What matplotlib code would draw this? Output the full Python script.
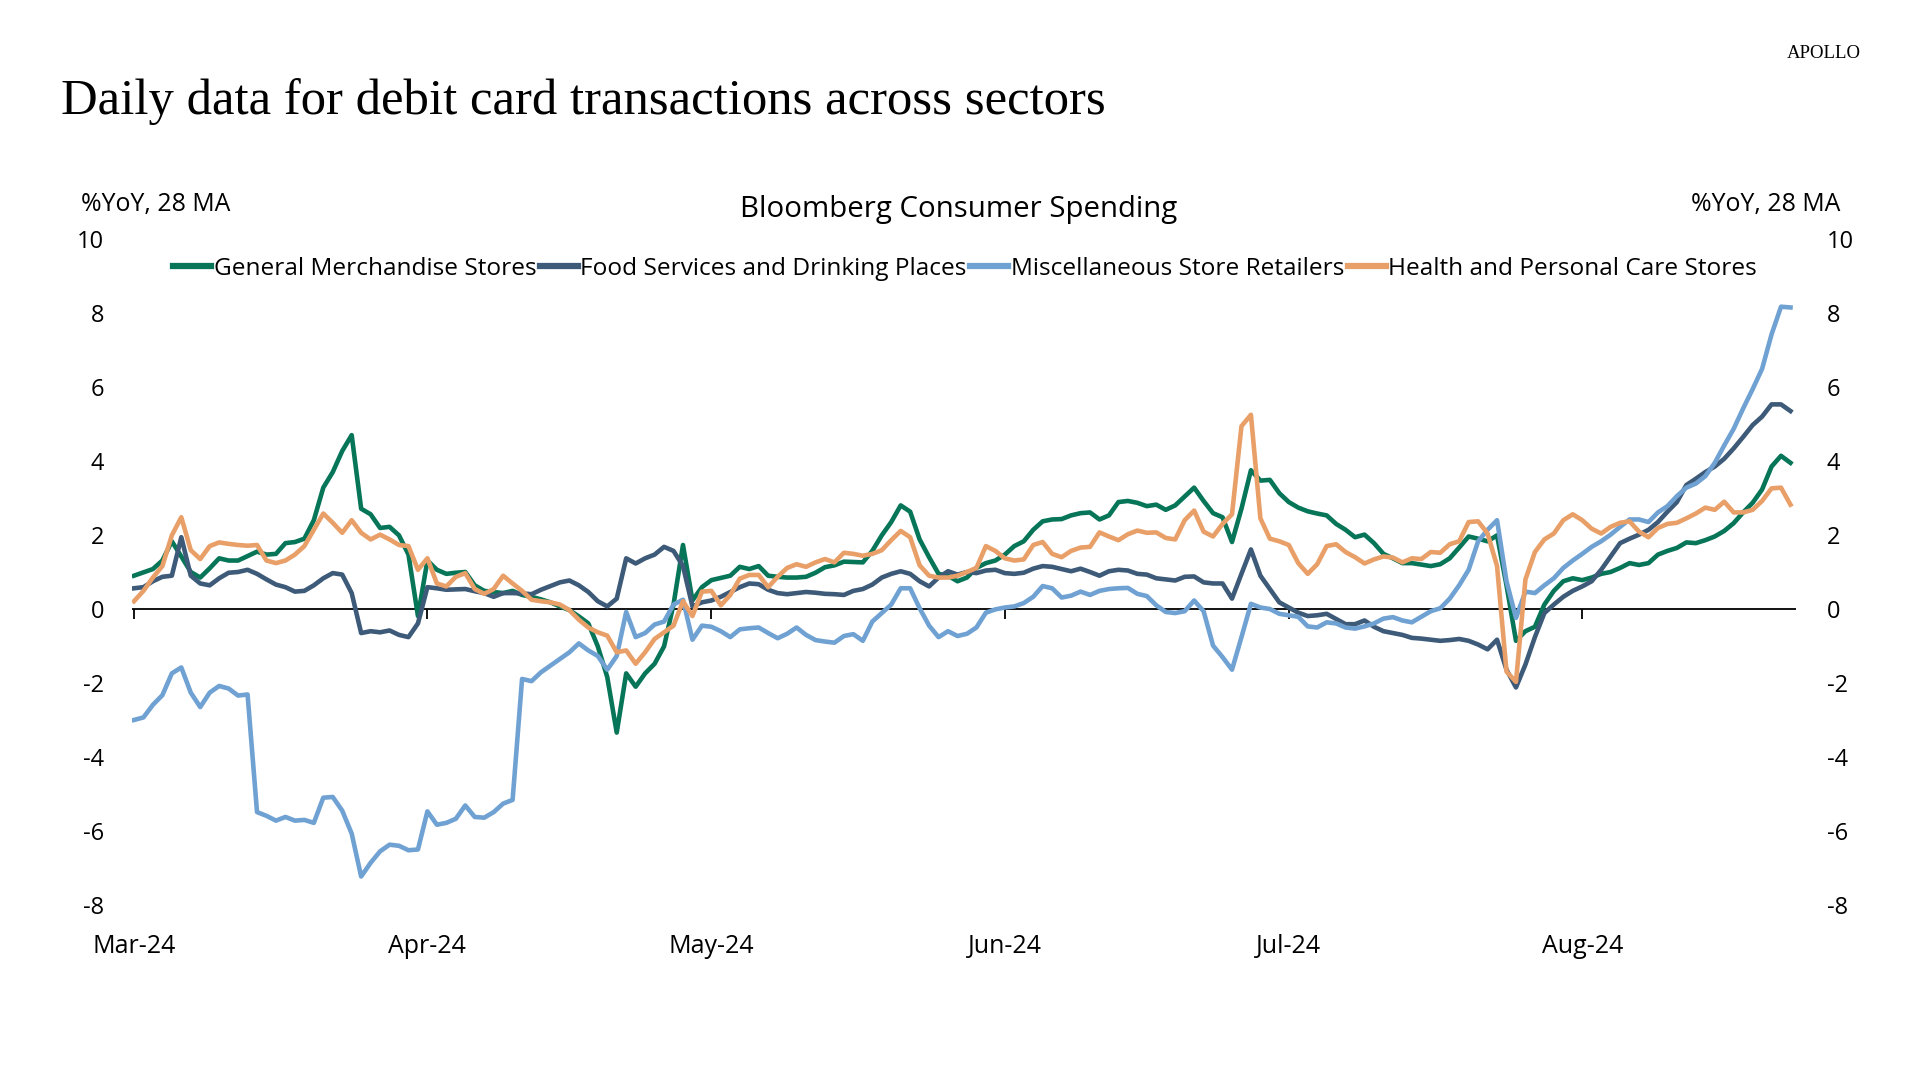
import matplotlib
matplotlib.use('Agg')
import matplotlib.pyplot as plt
import pandas as pd

plt.rcParams['font.family'] = ['Open Sans', 'DejaVu Sans']
plt.rcParams['axes.unicode_minus'] = False

# daily values, %YoY 28-day MA, starting 1 Mar 2024
general_merch = [
    0.90, 0.99, 1.08, 1.31, 1.83, 1.42, 1.00, 0.85, 1.10, 1.37,
    1.31, 1.31, 1.43, 1.55, 1.47, 1.49, 1.78, 1.81, 1.90, 2.40,
    3.28, 3.70, 4.27, 4.70, 2.71, 2.56, 2.19, 2.22, 1.99, 1.47,
    -0.19, 1.31, 1.06, 0.95, 0.98, 1.00, 0.64, 0.49, 0.46, 0.43,
    0.49, 0.38, 0.33, 0.26, 0.18, 0.07, -0.03, -0.20, -0.39, -1.01,
    -1.84, -3.34, -1.74, -2.10, -1.74, -1.48, -1.01, 0.12, 1.73, 0.23,
    0.59, 0.78, 0.84, 0.90, 1.14, 1.08, 1.16, 0.90, 0.87, 0.85,
    0.85, 0.87, 0.98, 1.13, 1.18, 1.28, 1.27, 1.26, 1.57, 1.99,
    2.35, 2.80, 2.63, 1.88, 1.40, 0.95, 0.90, 0.75, 0.85, 1.11,
    1.24, 1.31, 1.47, 1.70, 1.83, 2.14, 2.37, 2.42, 2.43, 2.53,
    2.59, 2.61, 2.42, 2.53, 2.89, 2.92, 2.87, 2.78, 2.82, 2.68,
    2.80, 3.04, 3.28, 2.92, 2.59, 2.48, 1.81, 2.71, 3.75, 3.47,
    3.49, 3.13, 2.89, 2.74, 2.64, 2.58, 2.53, 2.30, 2.14, 1.94,
    2.01, 1.78, 1.49, 1.37, 1.24, 1.24, 1.20, 1.16, 1.21, 1.37,
    1.66, 1.96, 1.90, 1.83, 1.99, 0.64, -0.86, -0.60, -0.48, 0.12,
    0.49, 0.75, 0.83, 0.78, 0.85, 0.95, 1.00, 1.11, 1.24, 1.19,
    1.24, 1.47, 1.57, 1.65, 1.80, 1.78, 1.86, 1.96, 2.11, 2.32,
    2.61, 2.87, 3.23, 3.85, 4.14, 3.95]

food_services = [
    0.56, 0.59, 0.75, 0.87, 0.90, 1.94, 0.90, 0.69, 0.64, 0.83,
    0.98, 1.00, 1.06, 0.95, 0.80, 0.66, 0.59, 0.47, 0.49, 0.64,
    0.83, 0.97, 0.93, 0.43, -0.65, -0.60, -0.63, -0.58, -0.70, -0.76,
    -0.39, 0.59, 0.56, 0.52, 0.53, 0.54, 0.48, 0.43, 0.33, 0.43,
    0.43, 0.42, 0.40, 0.52, 0.62, 0.72, 0.77, 0.64, 0.46, 0.21,
    0.07, 0.28, 1.37, 1.23, 1.37, 1.47, 1.68, 1.57, 1.16, 0.07,
    0.18, 0.23, 0.33, 0.46, 0.59, 0.69, 0.67, 0.52, 0.43, 0.40,
    0.43, 0.46, 0.44, 0.41, 0.40, 0.38, 0.49, 0.54, 0.66, 0.85,
    0.95, 1.02, 0.95, 0.75, 0.61, 0.85, 1.02, 0.93, 1.00, 0.97,
    1.04, 1.06, 0.97, 0.95, 0.98, 1.09, 1.16, 1.14, 1.08, 1.02,
    1.09, 1.00, 0.90, 1.02, 1.06, 1.04, 0.95, 0.93, 0.83, 0.80,
    0.77, 0.87, 0.88, 0.72, 0.69, 0.69, 0.28, 0.95, 1.61, 0.90,
    0.54, 0.18, 0.04, -0.10, -0.19, -0.17, -0.13, -0.27, -0.41, -0.41,
    -0.31, -0.48, -0.60, -0.65, -0.70, -0.78, -0.80, -0.83, -0.86, -0.84,
    -0.81, -0.86, -0.96, -1.09, -0.83, -1.64, -2.12, -1.50, -0.76, -0.11,
    0.12, 0.33, 0.49, 0.61, 0.75, 1.06, 1.42, 1.78, 1.90, 2.01,
    2.14, 2.35, 2.63, 2.89, 3.35, 3.52, 3.70, 3.85, 4.06, 4.34,
    4.65, 4.97, 5.20, 5.53, 5.53, 5.35]

misc_retail = [
    -3.00, -2.93, -2.59, -2.33, -1.74, -1.58, -2.26, -2.65, -2.26, -2.08,
    -2.15, -2.34, -2.31, -5.49, -5.59, -5.72, -5.62, -5.72, -5.70, -5.78,
    -5.10, -5.08, -5.45, -6.07, -7.23, -6.86, -6.55, -6.37, -6.40, -6.52,
    -6.50, -5.47, -5.83, -5.78, -5.67, -5.31, -5.62, -5.64, -5.49, -5.26,
    -5.16, -1.89, -1.95, -1.71, -1.53, -1.35, -1.17, -0.93, -1.12, -1.27,
    -1.64, -1.27, -0.08, -0.76, -0.65, -0.42, -0.34, 0.12, 0.25, -0.83,
    -0.45, -0.48, -0.60, -0.76, -0.55, -0.52, -0.50, -0.65, -0.79, -0.67,
    -0.50, -0.70, -0.84, -0.88, -0.91, -0.73, -0.68, -0.86, -0.34, -0.11,
    0.12, 0.56, 0.56, 0.02, -0.45, -0.76, -0.60, -0.73, -0.67, -0.50,
    -0.10, -0.01, 0.04, 0.07, 0.16, 0.33, 0.62, 0.56, 0.31, 0.36,
    0.47, 0.38, 0.49, 0.54, 0.56, 0.57, 0.41, 0.35, 0.10, -0.08,
    -0.11, -0.06, 0.23, -0.06, -0.99, -1.30, -1.64, -0.76, 0.14, 0.04,
    0.00, -0.13, -0.17, -0.21, -0.47, -0.50, -0.36, -0.39, -0.50, -0.53,
    -0.47, -0.39, -0.26, -0.22, -0.31, -0.36, -0.21, -0.06, 0.02, 0.28,
    0.64, 1.06, 1.83, 2.14, 2.40, 0.75, -0.24, 0.47, 0.43, 0.64,
    0.83, 1.11, 1.31, 1.49, 1.68, 1.83, 2.01, 2.22, 2.42, 2.42,
    2.35, 2.61, 2.78, 3.05, 3.28, 3.39, 3.59, 3.95, 4.42, 4.87,
    5.42, 5.94, 6.49, 7.42, 8.17, 8.15]

health_care = [
    0.21, 0.49, 0.85, 1.16, 1.99, 2.48, 1.59, 1.35, 1.70, 1.80,
    1.76, 1.73, 1.71, 1.73, 1.31, 1.24, 1.31, 1.47, 1.70, 2.14,
    2.58, 2.33, 2.06, 2.40, 2.06, 1.88, 2.01, 1.88, 1.73, 1.70,
    1.06, 1.37, 0.69, 0.61, 0.87, 0.97, 0.54, 0.41, 0.54, 0.90,
    0.69, 0.49, 0.25, 0.21, 0.18, 0.12, -0.03, -0.29, -0.50, -0.63,
    -0.72, -1.17, -1.12, -1.48, -1.17, -0.81, -0.63, -0.45, 0.21, -0.19,
    0.47, 0.49, 0.10, 0.38, 0.82, 0.92, 0.92, 0.59, 0.87, 1.11,
    1.21, 1.14, 1.26, 1.35, 1.26, 1.52, 1.49, 1.44, 1.49, 1.59,
    1.86, 2.11, 1.94, 1.18, 0.90, 0.85, 0.85, 0.90, 1.00, 1.11,
    1.70, 1.57, 1.37, 1.31, 1.34, 1.73, 1.81, 1.49, 1.40, 1.57,
    1.66, 1.68, 2.07, 1.96, 1.86, 2.02, 2.12, 2.06, 2.07, 1.92,
    1.88, 2.40, 2.66, 2.09, 1.96, 2.30, 2.56, 4.94, 5.25, 2.45,
    1.90, 1.83, 1.73, 1.24, 0.95, 1.21, 1.70, 1.75, 1.54, 1.40,
    1.23, 1.34, 1.42, 1.39, 1.26, 1.37, 1.35, 1.54, 1.52, 1.75,
    1.83, 2.35, 2.37, 2.04, 1.16, -1.69, -1.97, 0.80, 1.54, 1.88,
    2.04, 2.40, 2.56, 2.40, 2.17, 2.04, 2.22, 2.33, 2.37, 2.09,
    1.94, 2.19, 2.30, 2.33, 2.45, 2.58, 2.74, 2.68, 2.90, 2.61,
    2.61, 2.68, 2.92, 3.26, 3.28, 2.82]

series_names = ["General Merchandise Stores", "Food Services and Drinking Places",
                "Miscellaneous Store Retailers", "Health and Personal Care Stores"]
colors = ["#077558", "#3d5a78", "#6fa1d2", "#e99f68"]
month_labels = ["Mar-24", "Apr-24", "May-24", "Jun-24", "Jul-24", "Aug-24"]
y_ticks = [-8, -6, -4, -2, 0, 2, 4, 6, 8, 10]

start = pd.Timestamp("2024-03-01")
dates = pd.date_range(start, periods=len(health_care), freq="D")
month_starts = pd.date_range(start, periods=len(month_labels), freq="MS")

fig = plt.figure(figsize=(19.2, 10.8), dpi=100)
ax = fig.add_axes([132 / 1920, 175 / 1080, (1796 - 132) / 1920, (905 - 239) / 1080])

for vals, name, c in zip([general_merch, food_services, misc_retail, health_care], series_names, colors):
    ax.plot(dates, vals, color=c, lw=3.3, label=name, solid_joinstyle="round")

ax.set_xlim(start - pd.Timedelta(hours=5), dates[-1] + pd.Timedelta(hours=14))
ax.set_ylim(-8, 10)

# zero line with small month ticks hanging below it
ax.axhline(0, color="black", lw=1.3, zorder=1)
ax.vlines(month_starts, -0.28, 0, color="black", lw=1.3, zorder=1)

for s in ax.spines.values():
    s.set_visible(False)

ax.set_xticks(month_starts)
ax.set_xticklabels(month_labels)
ax.set_yticks(y_ticks)
ax.tick_params(axis="x", length=0, pad=21, labelsize=18)
ax.tick_params(axis="y", length=0, pad=20, labelsize=17)
for t in ax.get_yticklabels():
    t.set_horizontalalignment("right")

ax2 = ax.twinx()
ax2.set_ylim(-8, 10)
ax2.set_yticks(y_ticks)
ax2.tick_params(axis="y", length=0, pad=22, labelsize=17)
for s in ax2.spines.values():
    s.set_visible(False)

leg = ax.legend(loc="center", bbox_to_anchor=(965 / 1920, 1 - 269 / 1080), bbox_transform=fig.transFigure,
                ncol=4, frameon=False, fontsize=17.6, handlelength=1.55, handletextpad=0.1,
                columnspacing=0.15)
for h in leg.get_lines():
    h.set_linewidth(4.5)

fig.text(61 / 1920, 1 - 102 / 1080, "Daily data for debit card transactions across sectors",
         family="Liberation Serif", fontsize=36.5, va="center", ha="left")
fig.text(1861 / 1920, 1 - 54 / 1080, "APOLLO", family="Liberation Serif", fontsize=13.5,
         va="center", ha="right")
fig.text(81 / 1920, 1 - 204 / 1080, "%YoY, 28 MA", fontsize=17.9, va="center", ha="left")
fig.text(1840 / 1920, 1 - 204 / 1080, "%YoY, 28 MA", fontsize=17.9, va="center", ha="right")
fig.text(959 / 1920, 1 - 209 / 1080, "Bloomberg Consumer Spending", fontsize=21.2,
         va="center", ha="center")

fig.savefig("out.png", dpi=100)
